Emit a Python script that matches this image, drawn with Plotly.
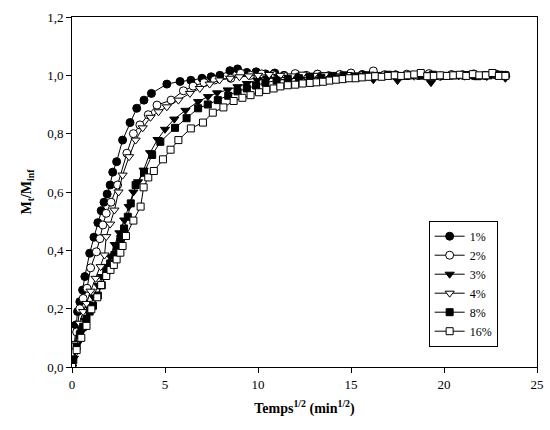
import plotly.graph_objects as go

# Sorption kinetics: fractional uptake M_t/M_inf versus square root of time
labels = ["1%", "2%", "3%", "4%", "8%", "16%"]

x_1 = [0, 0.07, 0.2, 0.3, 0.42, 0.57, 0.69, 0.95, 1.18, 1.39,
       1.57, 1.72, 1.89, 2.05, 2.19, 2.4, 2.72, 3.12, 3.48, 3.87,
       4.27, 5.1, 5.81, 6.39, 6.99, 7.48, 7.95, 8.49, 8.9, 9.4,
       9.9, 10.4, 10.9, 11.4, 12.0, 12.6, 13.2, 13.8, 14.4, 15.0,
       15.6, 16.2, 16.8, 17.4, 18.0, 18.6, 19.2, 19.8, 20.4, 21.0,
       21.6, 22.2, 22.8, 23.3]
y_1 = [0, 0.048, 0.144, 0.19, 0.224, 0.264, 0.31, 0.39, 0.445, 0.495,
       0.536, 0.565, 0.593, 0.624, 0.668, 0.704, 0.778, 0.838, 0.887, 0.915,
       0.938, 0.97, 0.979, 0.983, 0.99, 0.995, 1.0, 1.016, 1.022, 1.01,
       1.012, 1.005, 1.008, 1.0, 1.003, 0.998, 1.004, 0.997, 1.001, 1.0,
       1.003, 0.998, 1.0, 1.002, 0.999, 1.0, 1.003, 0.998, 1.0, 1.002,
       0.999, 1.0, 1.001, 1.0]

x_2 = [0, 0.1, 0.25, 0.42, 0.6, 0.81, 1.0, 1.31, 1.5, 1.66,
       1.84, 2.1, 2.45, 2.95, 3.3, 3.65, 4.1, 4.57, 5.33, 5.99,
       6.51, 7.1, 7.66, 8.54, 9.07, 9.6, 10.2, 10.8, 11.4, 12.0,
       12.6, 13.2, 13.8, 14.4, 15.0, 15.6, 16.2, 16.8, 17.4, 18.0,
       18.6, 19.2, 19.8, 20.4, 21.0, 21.6, 22.2, 22.8, 23.3]
y_2 = [0, 0.05, 0.12, 0.2, 0.235, 0.27, 0.34, 0.395, 0.44, 0.487,
       0.527, 0.565, 0.624, 0.733, 0.80, 0.83, 0.865, 0.898, 0.915, 0.947,
       0.963, 0.975, 0.984, 0.99, 1.007, 1.0, 1.005, 1.002, 0.998, 1.006,
       1.0, 1.004, 0.999, 1.003, 1.008, 1.0, 1.015, 1.002, 0.998, 1.004,
       1.0, 1.006, 0.997, 1.003, 1.0, 1.005, 0.999, 1.004, 1.0]

x_3 = [0, 0.1, 0.3, 0.5, 0.7, 0.95, 1.15, 1.4, 1.6, 1.85,
       2.05, 2.3, 2.55, 2.81, 3.05, 3.3, 3.55, 3.85, 4.2, 4.6,
       5.0, 5.5, 6.1, 6.78, 7.31, 7.8, 8.37, 8.9, 9.4, 9.96,
       10.5, 11.1, 11.7, 12.3, 12.9, 13.5, 14.1, 14.7, 15.3, 16.2,
       16.8, 17.5, 18.1, 18.7, 19.3, 19.9, 20.5, 21.1, 21.7, 22.3,
       22.9, 23.3]
y_3 = [0, 0.03, 0.08, 0.12, 0.16, 0.2, 0.24, 0.28, 0.31, 0.345,
       0.38, 0.42, 0.46, 0.504, 0.55, 0.6, 0.635, 0.675, 0.735, 0.78,
       0.815, 0.85, 0.88, 0.91, 0.927, 0.94, 0.95, 0.961, 0.972, 0.984,
       0.99, 0.995, 0.99, 1.0, 0.997, 1.002, 0.998, 1.0, 1.0, 0.985,
       1.0, 0.982, 0.998, 1.0, 0.975, 0.998, 1.002, 0.997, 1.0, 0.996,
       1.0, 0.99]

x_4 = [0, 0.21, 0.4, 0.6, 0.78, 1.0, 1.27, 1.54, 1.75, 1.84,
       2.05, 2.28, 2.5, 2.72, 3.07, 3.42, 3.8, 4.22, 4.65, 5.1,
       5.72, 6.34, 6.87, 7.4, 7.93, 8.5, 9.0, 9.5, 10.0, 10.6,
       11.2, 11.8, 12.4, 13.0, 13.6, 14.2, 14.8, 15.4, 16.0, 16.6,
       17.2, 17.8, 18.4, 19.0, 19.6, 20.2, 20.8, 21.4, 22.0, 22.6,
       23.2]
y_4 = [0, 0.081, 0.15, 0.19, 0.218, 0.26, 0.304, 0.344, 0.384, 0.447,
       0.49, 0.538, 0.6, 0.658, 0.721, 0.778, 0.82, 0.856, 0.875, 0.892,
       0.915, 0.938, 0.955, 0.97, 0.984, 0.99, 0.995, 0.998, 1.0, 1.003,
       1.0, 0.998, 1.004, 1.0, 1.002, 0.997, 1.003, 1.0, 1.004, 0.999,
       1.002, 1.0, 0.997, 1.003, 1.0, 1.002, 0.998, 1.003, 1.0, 1.004,
       1.0]

x_8 = [0, 0.07, 0.25, 0.42, 0.6, 0.78, 0.95, 1.13, 1.39, 1.6,
       1.84, 2.05, 2.28, 2.4, 2.6, 2.8, 3.0, 3.16, 3.42, 3.87,
       4.31, 4.75, 5.54, 6.16, 6.78, 7.3, 7.84, 8.4, 8.9, 9.4,
       9.9, 10.4, 11.0, 11.6, 12.2, 12.8, 13.4, 14.0, 14.6, 15.2,
       15.8, 16.4, 17.0, 17.6, 18.2, 18.8, 19.4, 20.0, 20.6, 21.2,
       21.8, 22.4, 23.0, 23.3]
y_8 = [0, 0.024, 0.07, 0.11, 0.138, 0.165, 0.19, 0.21, 0.245, 0.28,
       0.327, 0.355, 0.384, 0.412, 0.44, 0.475, 0.515, 0.561, 0.624, 0.666,
       0.727, 0.772, 0.82, 0.853, 0.887, 0.9, 0.915, 0.93, 0.945, 0.955,
       0.965, 0.975, 0.982, 0.988, 0.99, 0.995, 0.992, 0.998, 1.0, 0.996,
       1.0, 0.998, 1.002, 0.997, 1.0, 0.999, 1.002, 0.998, 1.0, 1.001,
       0.997, 1.0, 1.002, 1.0]

x_16 = [0, 0.25, 0.5, 0.78, 1.04, 1.36, 1.57, 1.84, 2.07, 2.25,
        2.4, 2.6, 2.72, 2.9, 3.3, 3.69, 3.85, 4.1, 4.4, 4.89,
        5.3, 5.72, 6.39, 7.04, 7.57, 8.14, 8.69, 9.16, 9.6, 10.05,
        10.45, 10.84, 11.2, 11.6, 12.0, 12.4, 12.8, 13.15, 13.5, 13.85,
        14.2, 14.55, 14.9, 15.25, 15.6, 15.95, 16.3, 16.65, 17.0, 17.35,
        17.7, 18.05, 18.4, 18.75, 19.1, 19.45, 19.8, 20.15, 20.5, 20.85,
        21.2, 21.55, 21.9, 22.25, 22.6, 22.95, 23.3]
y_16 = [0, 0.058, 0.1, 0.141, 0.198, 0.239, 0.281, 0.312, 0.333, 0.35,
        0.369, 0.392, 0.415, 0.449, 0.502, 0.55, 0.616, 0.65, 0.672, 0.712,
        0.745, 0.778, 0.818, 0.838, 0.872, 0.89, 0.912, 0.923, 0.932, 0.942,
        0.95, 0.955, 0.962, 0.966, 0.968, 0.972, 0.974, 0.976, 0.978, 0.982,
        0.985, 0.987, 0.99, 0.99, 0.993, 0.995, 0.997, 0.995, 0.998, 1.0,
        0.998, 1.0, 1.003, 1.008, 0.997, 0.998, 1.0, 0.998, 1.0, 1.002,
        0.998, 1.004, 1.0, 1.0, 1.008, 0.998, 0.998]

xs = [x_1, x_2, x_3, x_4, x_8, x_16]
ys = [y_1, y_2, y_3, y_4, y_8, y_16]
symbols = ["circle", "circle", "triangle-down", "triangle-down", "square", "square"]
fills = ["black", "white", "black", "white", "black", "white"]
sizes = [8, 8, 8, 8, 7, 7]

serif = '"Liberation Serif", "Times New Roman", Times, serif'

fig = go.Figure()
for lab, x, y, sym, fc, sz in zip(labels, xs, ys, symbols, fills, sizes):
    fig.add_trace(go.Scatter(
        x=x, y=y, name=lab, mode="lines+markers",
        line=dict(color="black", width=1),
        marker=dict(symbol=sym, size=sz, color=fc,
                    line=dict(color="black", width=1)),
    ))

fig.update_layout(
    width=550, height=430,
    margin=dict(l=72, r=6, t=17, b=63),
    paper_bgcolor="white", plot_bgcolor="white",
    separators=",.",
    font=dict(family=serif, size=12, color="black"),
    showlegend=True,
    legend=dict(
        x=0.767, y=0.418, xanchor="left", yanchor="top",
        bordercolor="black", borderwidth=1, bgcolor="white",
        font=dict(family=serif, size=12),
        tracegroupgap=0, itemwidth=30,
    ),
)

fig.update_xaxes(
    range=[0, 25], tickvals=[0, 5, 10, 15, 20, 25],
    showline=True, linecolor="black", linewidth=1, mirror=True,
    ticks="outside", ticklen=5, tickcolor="black",
    showgrid=False, zeroline=False, ticklabeloverflow="allow",
    tickfont=dict(family=serif, size=13),
    title=dict(text="<b>Temps<sup>1/2</sup> (min<sup>1/2</sup>)</b>",
               font=dict(family=serif, size=14), standoff=12),
)
fig.update_yaxes(
    range=[0, 1.2], tickvals=[0, 0.2, 0.4, 0.6, 0.8, 1.0, 1.2], tickformat=".1f",
    showline=True, linecolor="black", linewidth=1, mirror=True,
    ticks="outside", ticklen=5, tickcolor="black",
    showgrid=False, zeroline=False,
    tickfont=dict(family=serif, size=13),
    title=dict(text="<b>M<sub>t</sub>/M<sub>inf</sub></b>",
               font=dict(family=serif, size=14), standoff=12),
)

fig.write_html("out.html")
